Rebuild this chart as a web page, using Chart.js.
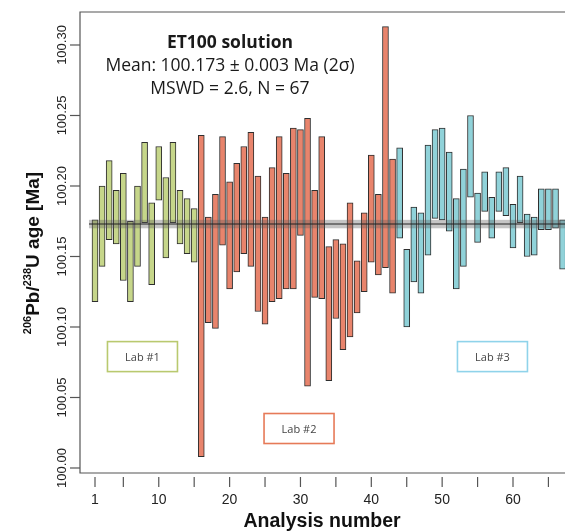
<!DOCTYPE html>
<html>
<head>
<meta charset="utf-8">
<script src="https://cdn.jsdelivr.net/npm/chart.js@4.4.1/dist/chart.umd.min.js"></script>
<style>
    html, body { margin: 0; padding: 0; background: #fff; overflow: hidden; width: 565px; height: 531px; }
    canvas { display: block; }
</style>
</head>
<body>
<canvas id="ageChart" width="620" height="531"></canvas>
<script>
// 206Pb/238U ages of the ET100 solution, one box per analysis (2 sigma range)
const lab1Start = 1;
const lab1High = [100.176, 100.200, 100.218, 100.197, 100.209, 100.175, 100.200, 100.231, 100.188, 100.228, 100.206, 100.231, 100.197, 100.191, 100.184];
const lab1Low  = [100.118, 100.143, 100.162, 100.159, 100.133, 100.118, 100.143, 100.174, 100.130, 100.190, 100.149, 100.174, 100.159, 100.152, 100.146];

const lab2Start = 16;
const lab2High = [100.236, 100.178, 100.194, 100.235, 100.203, 100.216, 100.228, 100.238, 100.207, 100.178, 100.213, 100.235, 100.209, 100.241,
                  100.240, 100.248, 100.197, 100.235, 100.157, 100.162, 100.159, 100.188, 100.147, 100.181, 100.222, 100.194, 100.313, 100.219];
const lab2Low  = [100.008, 100.103, 100.099, 100.158, 100.127, 100.139, 100.152, 100.143, 100.111, 100.102, 100.118, 100.120, 100.127, 100.127,
                  100.165, 100.058, 100.121, 100.120, 100.062, 100.106, 100.084, 100.093, 100.110, 100.125, 100.146, 100.137, 100.142, 100.124];

const lab3Start = 44;
const lab3High = [100.227, 100.155, 100.185, 100.181, 100.229, 100.240, 100.241, 100.224, 100.191, 100.212, 100.250, 100.195,
                  100.210, 100.192, 100.210, 100.213, 100.187, 100.207, 100.180, 100.178, 100.198, 100.198, 100.198, 100.176];
const lab3Low  = [100.163, 100.100, 100.132, 100.124, 100.151, 100.177, 100.176, 100.168, 100.127, 100.143, 100.192, 100.160,
                  100.182, 100.163, 100.182, 100.179, 100.156, 100.174, 100.150, 100.151, 100.169, 100.169, 100.170, 100.141];

const meanAge = 100.173;
const meanError = 0.003;
const meanLineStart = 0.15;

const yTickValues = [100.00, 100.05, 100.10, 100.15, 100.20, 100.25, 100.30];
const xTickValues = [1, 5, 10, 15, 20, 25, 30, 35, 40, 45, 50, 55, 60, 65];
const xTickLabels = ['1', '', '10', '', '20', '', '30', '', '40', '', '50', '', '60', ''];

// Lab label boxes, placed in data coordinates (analysis number, age)
const labBoxes = [
    { text: 'Lab #1', x: 7.7,  y: 100.079, color: '#b9c96f' },
    { text: 'Lab #2', x: 29.8, y: 100.028, color: '#e67a58' },
    { text: 'Lab #3', x: 57.1, y: 100.079, color: '#8fd3ea' }
];

function toBoxes(start, low, high) {
    return low.map((lo, i) => ({ x: start + i, y: [lo, high[i]] }));
}

function barDataset(label, data, fill) {
    return {
        label: label,
        data: data,
        backgroundColor: fill,
        borderColor: '#2e2e2e',
        borderWidth: 1,
        borderSkipped: false,
        barThickness: 6,
        grouped: false
    };
}

// Draws the R-style frame, ticks, labels, mean band and annotations
const framePlugin = {
    id: 'frame',
    afterDatasetsDraw(chart) {
        const ctx = chart.ctx;
        const xs = chart.scales.x;
        const ys = chart.scales.y;
        const area = chart.chartArea;

        // weighted mean and its uncertainty band, over the boxes
        ctx.save();
        const x0 = xs.getPixelForValue(meanLineStart);
        const yHi = ys.getPixelForValue(meanAge + meanError);
        const yLo = ys.getPixelForValue(meanAge - meanError);
        ctx.fillStyle = 'rgba(90, 90, 90, 0.35)';
        ctx.fillRect(x0, yHi, area.right - x0, yLo - yHi);
        ctx.strokeStyle = 'rgba(30, 30, 30, 0.65)';
        ctx.lineWidth = 1.5;
        ctx.beginPath();
        ctx.moveTo(x0, ys.getPixelForValue(meanAge));
        ctx.lineTo(area.right, ys.getPixelForValue(meanAge));
        ctx.stroke();
        ctx.restore();
    },
    afterDraw(chart) {
        const ctx = chart.ctx;
        const xs = chart.scales.x;
        const ys = chart.scales.y;
        const area = chart.chartArea;

        ctx.save();
        ctx.strokeStyle = '#555';
        ctx.lineWidth = 1.2;
        ctx.beginPath();
        ctx.moveTo(area.right, area.top);
        ctx.lineTo(area.left, area.top);
        ctx.lineTo(area.left, area.bottom);
        ctx.lineTo(area.right, area.bottom);
        ctx.stroke();

        // y ticks and rotated labels
        ctx.fillStyle = '#222';
        ctx.font = '13px "Liberation Sans", Arial, sans-serif';
        ctx.textAlign = 'center';
        ctx.textBaseline = 'middle';
        yTickValues.forEach(v => {
            const y = ys.getPixelForValue(v);
            ctx.beginPath();
            ctx.moveTo(area.left - 10, y);
            ctx.lineTo(area.left, y);
            ctx.stroke();
            ctx.save();
            ctx.translate(area.left - 18, y);
            ctx.rotate(-Math.PI / 2);
            ctx.fillText(v.toFixed(2), 0, 0);
            ctx.restore();
        });

        // x ticks below the frame
        ctx.font = '14px "Liberation Sans", Arial, sans-serif';
        xTickValues.forEach((v, i) => {
            const x = xs.getPixelForValue(v);
            ctx.beginPath();
            ctx.moveTo(x, area.bottom + 4);
            ctx.lineTo(x, area.bottom + 14);
            ctx.stroke();
            if (xTickLabels[i]) ctx.fillText(xTickLabels[i], x, area.bottom + 27);
        });

        // axis titles
        ctx.font = 'bold 19.5px "Liberation Sans", Arial, sans-serif';
        ctx.fillStyle = '#111';
        ctx.fillText('Analysis number', 322, 522);

        ctx.save();
        ctx.translate(34, 253);
        ctx.rotate(-Math.PI / 2);
        const parts = [
            { t: '206', f: 'bold 11px "Liberation Sans", Arial, sans-serif', dy: -6 },
            { t: 'Pb/', f: 'bold 19px "Liberation Sans", Arial, sans-serif', dy: 0 },
            { t: '238', f: 'bold 11px "Liberation Sans", Arial, sans-serif', dy: -6 },
            { t: 'U age [Ma]', f: 'bold 19px "Liberation Sans", Arial, sans-serif', dy: 0 }
        ];
        let total = 0;
        parts.forEach(p => { ctx.font = p.f; p.w = ctx.measureText(p.t).width; total += p.w; });
        let px = -total / 2;
        ctx.textAlign = 'left';
        parts.forEach(p => {
            ctx.font = p.f;
            ctx.fillText(p.t, px, p.dy);
            px += p.w;
        });
        ctx.restore();

        // result text
        ctx.textAlign = 'center';
        ctx.fillStyle = '#1a1a1a';
        ctx.font = 'bold 17.5px "Open Sans", sans-serif';
        ctx.fillText('ET100 solution', 230, 43);
        ctx.font = '17.5px "Open Sans", sans-serif';
        ctx.fillText('Mean: 100.173 \u00b1 0.003 Ma (2\u03c3)', 230, 66);
        ctx.fillText('MSWD = 2.6, N = 67', 230, 89);

        // lab boxes
        ctx.font = '11px "Open Sans", sans-serif';
        labBoxes.forEach(b => {
            const cx = xs.getPixelForValue(b.x);
            const cy = ys.getPixelForValue(b.y);
            ctx.fillStyle = '#fff';
            ctx.fillRect(cx - 35, cy - 15, 70, 30);
            ctx.strokeStyle = b.color;
            ctx.lineWidth = 1.6;
            ctx.strokeRect(cx - 35, cy - 15, 70, 30);
            ctx.fillStyle = '#444';
            ctx.fillText(b.text, cx, cy + 1);
        });
        ctx.restore();
    }
};

new Chart(document.getElementById('ageChart'), {
    type: 'bar',
    data: {
        datasets: [
            barDataset('Lab #1', toBoxes(lab1Start, lab1Low, lab1High), '#c6d68a'),
            barDataset('Lab #2', toBoxes(lab2Start, lab2Low, lab2High), '#e8846c'),
            barDataset('Lab #3', toBoxes(lab3Start, lab3Low, lab3High), '#90d2d9')
        ]
    },
    options: {
        responsive: false,
        animation: false,
        devicePixelRatio: 1,
        layout: { padding: { left: 80, top: 12, right: 20, bottom: 58 } },
        plugins: {
            legend: { display: false },
            tooltip: { enabled: false }
        },
        scales: {
            x: { type: 'linear', min: -1.117, max: 72.28, display: false, offset: false },
            y: { min: 99.99645, max: 100.3234, display: false }
        }
    },
    plugins: [framePlugin]
});
</script>
</body>
</html>
